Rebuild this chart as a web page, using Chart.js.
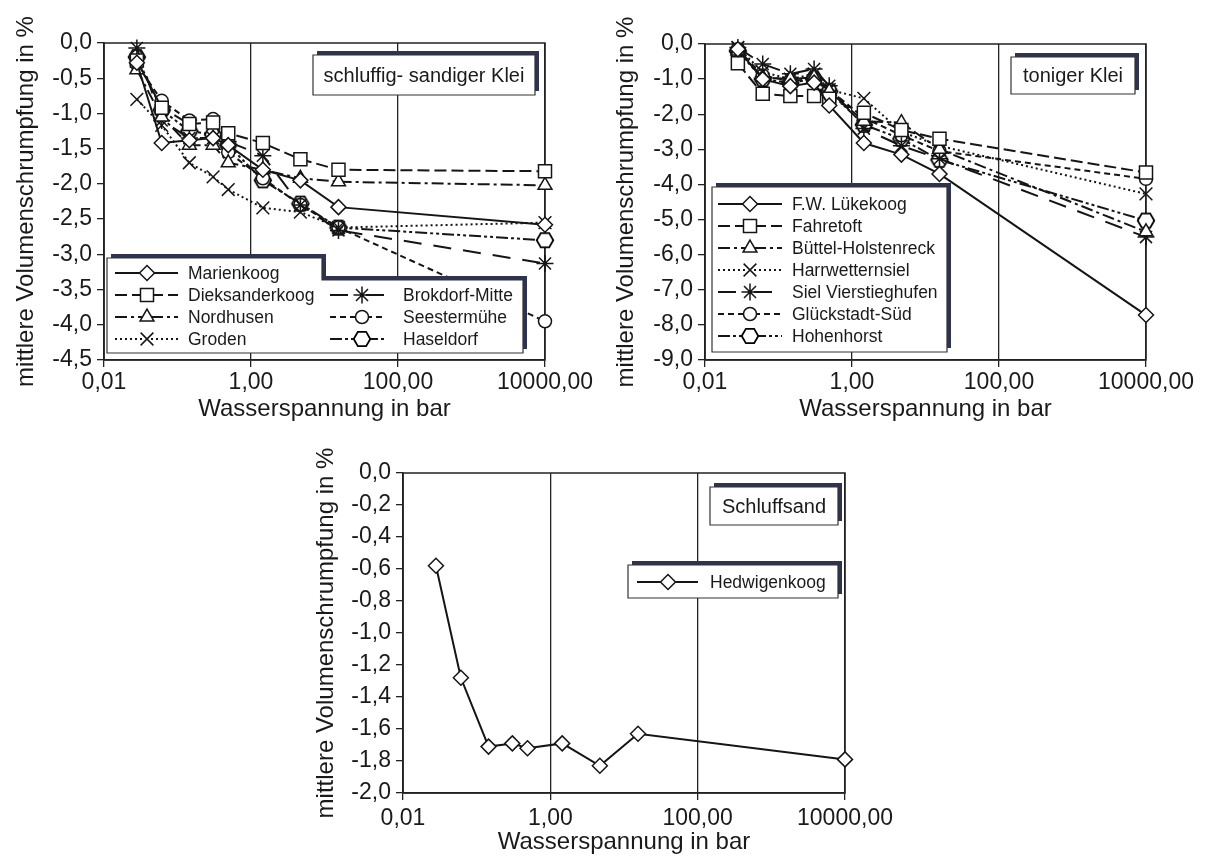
<!DOCTYPE html>
<html>
<head>
<meta charset="utf-8">
<script src="https://cdn.jsdelivr.net/npm/chart.js@4.4.1/dist/chart.umd.min.js"></script>
<style>
  html, body { margin: 0; padding: 0; background: #fff; }
  body { width: 1211px; height: 857px; position: relative; overflow: hidden; }
  canvas { position: absolute; }
</style>
</head>
<body>
<canvas id="c1" width="600" height="430" style="left:0px;top:0px;"></canvas>
<canvas id="c2" width="611" height="430" style="left:600px;top:0px;"></canvas>
<canvas id="c3" width="611" height="427" style="left:300px;top:430px;"></canvas>
<script>
// ---------------- DATA ----------------
const pressure = [0.028, 0.061, 0.145, 0.305, 0.49, 1.45, 4.7, 15.5, 10000]; // Wasserspannung in bar
const xTickValues = [0.01, 1, 100, 10000];
const xTickLabels = ['0,01', '1,00', '100,00', '10000,00'];

// Panel 1: schluffig- sandiger Klei
const names1 = ['Marienkoog', 'Dieksanderkoog', 'Nordhusen', 'Groden', 'Brokdorf-Mitte', 'Seestermühe', 'Haseldorf'];
const marienkoog     = [-0.28, -1.42, -1.38, -1.35, -1.45, -1.80, -1.95, -2.33, -2.58];
const dieksanderkoog = [-0.25, -0.92, -1.15, -1.13, -1.28, -1.42, -1.65, -1.80, -1.82];
const nordhusen      = [-0.38, -1.05, -1.45, -1.45, -1.70, -1.80, -1.92, -1.97, -2.02];
const groden         = [-0.80, -1.17, -1.70, -1.90, -2.08, -2.34, -2.40, -2.62, -2.55];
const brokdorf       = [-0.07, -1.10, -1.35, -1.35, -1.40, -1.60, -2.30, -2.66, -3.13];
const seestermuehe   = [-0.30, -0.82, -1.10, -1.08, -1.55, -1.92, -2.30, -2.62, -3.95];
const haseldorf      = [-0.20, -0.95, -1.25, -1.30, -1.45, -1.95, -2.28, -2.62, -2.80];

// Panel 2: toniger Klei
const names2 = ['F.W. Lükekoog', 'Fahretoft', 'Büttel-Holstenreck', 'Harrwetternsiel', 'Siel Vierstieghufen', 'Glückstadt-Süd', 'Hohenhorst'];
const luekekoog       = [-0.15, -1.00, -1.20, -1.10, -1.75, -2.82, -3.15, -3.70, -7.72];
const fahretoft       = [-0.55, -1.42, -1.48, -1.48, -1.56, -1.96, -2.45, -2.70, -3.66];
const buettel         = [-0.20, -0.95, -1.00, -0.95, -1.35, -2.20, -2.24, -3.00, -5.35];
const harrwetternsiel = [-0.10, -0.80, -1.00, -0.85, -1.30, -1.55, -2.50, -2.90, -4.27];
const sielVierstieg   = [-0.10, -0.57, -0.85, -0.71, -1.19, -2.41, -2.90, -3.27, -5.50];
const glueckstadt     = [-0.15, -0.90, -1.05, -1.00, -1.30, -2.10, -2.60, -3.05, -3.84];
const hohenhorst      = [-0.20, -1.00, -1.10, -1.00, -1.35, -2.30, -2.70, -3.30, -5.03];

// Panel 3: Schluffsand
const names3 = ['Hedwigenkoog'];
const hedwigenkoog = [-0.58, -1.28, -1.71, -1.69, -1.72, -1.69, -1.83, -1.63, -1.79];

const panelTitles = ['schluffig- sandiger Klei', 'toniger Klei', 'Schluffsand'];
const xTitle = 'Wasserspannung in bar';
const yTitle = 'mittlere Volumenschrumpfung in %';

// ---------------- STYLES ----------------
const FONT = "'Liberation Sans', Arial, Helvetica, sans-serif";
const INK = '#151515';
const SHADOW = '#2e3450';

function makeHex() {
  const c = document.createElement('canvas');
  c.width = 20; c.height = 18;
  const g = c.getContext('2d');
  const cx = 10, cy = 9, r = 8.3;
  g.beginPath();
  for (let i = 0; i < 6; i++) {
    const a = i * Math.PI / 3;
    const px = cx + r * Math.cos(a), py = cy + r * Math.sin(a);
    if (i === 0) g.moveTo(px, py); else g.lineTo(px, py);
  }
  g.closePath();
  g.fillStyle = '#fff'; g.fill();
  g.lineWidth = 1.8; g.strokeStyle = '#000'; g.stroke();
  return c;
}
const hexImg = makeHex();

const lineStyles = [
  { dash: [],                  point: 'rectRot',  r: 7.5 },
  { dash: [12, 5],             point: 'rect',     r: 9.2 },
  { dash: [12, 4, 3, 4],       point: 'triangle', r: 8 },
  { dash: [2, 3],              point: 'crossRot', r: 9 },
  { dash: [18, 12],            point: 'star',     r: 8.5 },
  { dash: [6, 4],              point: 'circle',   r: 6.5 },
  { dash: [12, 3, 3, 3, 3, 3], point: hexImg,     r: 8 }
];

function mkDataset(name, values, idx) {
  const s = lineStyles[idx];
  return {
    label: name,
    data: pressure.map((p, i) => ({ x: p, y: values[i] })),
    borderColor: INK,
    borderWidth: 2,
    borderDash: s.dash,
    pointStyle: s.point,
    pointRadius: s.r,
    pointBorderWidth: 1.5,
    pointBorderColor: INK,
    pointBackgroundColor: '#fff',
    tension: 0,
    fill: false,
    clip: false
  };
}

function drawMarker(ctx, style, x, y, r) {
  ctx.save();
  ctx.setLineDash([]);
  ctx.fillStyle = '#fff';
  ctx.strokeStyle = INK;
  ctx.lineWidth = 1.5;
  ctx.beginPath();
  if (style === 'rectRot') {
    ctx.moveTo(x - r, y); ctx.lineTo(x, y - r); ctx.lineTo(x + r, y); ctx.lineTo(x, y + r); ctx.closePath();
    ctx.fill(); ctx.stroke();
  } else if (style === 'rect') {
    const s = r * Math.SQRT1_2;
    ctx.rect(x - s, y - s, 2 * s, 2 * s); ctx.fill(); ctx.stroke();
  } else if (style === 'triangle') {
    for (let i = 0; i < 3; i++) {
      const a = i * 2 * Math.PI / 3;
      const px = x + Math.sin(a) * r, py = y - Math.cos(a) * r;
      if (i === 0) ctx.moveTo(px, py); else ctx.lineTo(px, py);
    }
    ctx.closePath(); ctx.fill(); ctx.stroke();
  } else if (style === 'crossRot') {
    const d = r * Math.SQRT1_2;
    ctx.moveTo(x - d, y - d); ctx.lineTo(x + d, y + d);
    ctx.moveTo(x - d, y + d); ctx.lineTo(x + d, y - d);
    ctx.stroke();
  } else if (style === 'star') {
    const d = r * Math.SQRT1_2;
    ctx.moveTo(x - r, y); ctx.lineTo(x + r, y);
    ctx.moveTo(x, y - r); ctx.lineTo(x, y + r);
    ctx.moveTo(x - d, y - d); ctx.lineTo(x + d, y + d);
    ctx.moveTo(x - d, y + d); ctx.lineTo(x + d, y - d);
    ctx.stroke();
  } else if (style === 'circle') {
    ctx.arc(x, y, r, 0, Math.PI * 2); ctx.fill(); ctx.stroke();
  } else {
    ctx.drawImage(style, Math.round(x - style.width / 2), Math.round(y - style.height / 2));
  }
  ctx.restore();
}

function shadowBox(ctx, poly) {
  ctx.save();
  ctx.setLineDash([]);
  ctx.beginPath();
  poly.forEach((p, i) => { if (i === 0) ctx.moveTo(p[0] + 4, p[1] - 4); else ctx.lineTo(p[0] + 4, p[1] - 4); });
  ctx.closePath();
  ctx.fillStyle = SHADOW; ctx.fill();
  ctx.beginPath();
  poly.forEach((p, i) => { if (i === 0) ctx.moveTo(p[0], p[1]); else ctx.lineTo(p[0], p[1]); });
  ctx.closePath();
  ctx.fillStyle = '#fff'; ctx.fill();
  ctx.lineWidth = 1.2; ctx.strokeStyle = '#333'; ctx.stroke();
  ctx.restore();
}
function rectPoly(x0, y0, x1, y1) { return [[x0, y0], [x1, y0], [x1, y1], [x0, y1]]; }

function panelPlugin(spec) {
  return {
    id: 'panelDeco',
    beforeDatasetsDraw(chart) {
      const { ctx, chartArea: a } = chart;
      ctx.save();
      ctx.setLineDash([]);
      ctx.lineWidth = 1.5; ctx.strokeStyle = '#222';
      ctx.strokeRect(a.left, a.top, a.right - a.left, a.bottom - a.top);
      ctx.restore();
    },
    afterDatasetsDraw(chart) {
      const ctx = chart.ctx;
      const t = spec.titleBox;
      shadowBox(ctx, rectPoly(t.x0, t.y0, t.x1, t.y1));
      ctx.save();
      ctx.fillStyle = '#1a1a1a';
      ctx.font = '20px ' + FONT;
      ctx.textAlign = 'center'; ctx.textBaseline = 'middle';
      ctx.fillText(t.text, (t.x0 + t.x1) / 2, (t.y0 + t.y1) / 2 + 1);
      ctx.restore();
      shadowBox(ctx, spec.legendPoly);
      spec.items.forEach(it => {
        const ds = chart.data.datasets[it.ds];
        const st = it.style;
        ctx.save();
        ctx.strokeStyle = INK; ctx.lineWidth = 2;
        ctx.setLineDash(st.dash);
        ctx.beginPath(); ctx.moveTo(it.x0, it.y); ctx.lineTo(it.mx - 4, it.y); ctx.stroke();
        ctx.beginPath(); ctx.moveTo(it.mx + 4, it.y); ctx.lineTo(it.x1, it.y); ctx.stroke();
        ctx.restore();
        drawMarker(ctx, st.point, it.mx, it.y, st.r);
        ctx.save();
        ctx.fillStyle = '#1a1a1a';
        ctx.font = '17.5px ' + FONT;
        ctx.textAlign = 'left'; ctx.textBaseline = 'middle';
        ctx.fillText(ds.label, it.tx, it.y + 1);
        ctx.restore();
      });
    }
  };
}

function yFmt(v) { return Number(v).toFixed(1).replace('.', ','); }

function makeOptions(o) {
  return {
    responsive: false,
    animation: false,
    devicePixelRatio: 1,
    layout: { padding: { left: 0, top: o.top, right: o.right, bottom: 0 } },
    plugins: { legend: { display: false }, tooltip: { enabled: false } },
    elements: { line: { borderJoinStyle: 'miter' } },
    scales: {
      x: {
        type: 'logarithmic',
        min: 0.01, max: 10000,
        afterBuildTicks: (s) => { s.ticks = xTickValues.map(v => ({ value: v, major: true })); },
        afterFit: (s) => { s.height = o.xh; },
        ticks: {
          autoSkip: false, maxRotation: 0, minRotation: 0,
          padding: o.xpad,
          color: '#1a1a1a',
          font: { family: FONT, size: 23 },
          callback: (v) => { const i = xTickValues.indexOf(Number(v)); return i >= 0 ? xTickLabels[i] : ''; }
        },
        grid: { display: true, drawOnChartArea: true, drawTicks: true, tickLength: 7, color: '#222', lineWidth: 1.3 },
        border: { display: true, color: '#222', width: 1.5 },
        title: { display: true, text: xTitle, color: '#1a1a1a', font: { family: FONT, size: 24 }, padding: { top: 0, bottom: o.xtpad } }
      },
      y: {
        min: o.ymin, max: 0,
        afterFit: (s) => { s.width = o.yw; },
        ticks: {
          stepSize: o.step,
          padding: 5,
          color: '#1a1a1a',
          font: { family: FONT, size: 23 },
          callback: (v) => yFmt(v)
        },
        grid: { display: true, drawOnChartArea: false, drawTicks: true, tickLength: 7, color: '#222', lineWidth: 1.3 },
        border: { display: true, color: '#222', width: 1.5 },
        title: { display: true, text: yTitle, color: '#1a1a1a', font: { family: FONT, size: 24 }, padding: { top: 12, bottom: 0 } }
      }
    }
  };
}

// ---------------- PANEL 1 ----------------
const p1Series = [marienkoog, dieksanderkoog, nordhusen, groden, brokdorf, seestermuehe, haseldorf];
const spec1 = {
  titleBox: { x0: 313, y0: 55, x1: 535, y1: 95, text: panelTitles[0] },
  legendPoly: [[107, 258], [322, 258], [322, 280], [523, 280], [523, 353], [107, 353]],
  items: []
};
[273, 295, 317, 339].forEach((y, i) => spec1.items.push({ ds: i, style: lineStyles[i], x0: 115, x1: 178, mx: 147, tx: 188, y }));
[295, 317, 339].forEach((y, i) => spec1.items.push({ ds: i + 4, style: lineStyles[i + 4], x0: 330, x1: 386, mx: 362, tx: 403, y }));

new Chart(document.getElementById('c1'), {
  type: 'line',
  data: { datasets: p1Series.map((v, i) => mkDataset(names1[i], v, i)) },
  options: makeOptions({ top: 43, right: 55, xh: 70, xpad: 2, xtpad: 6, ymin: -4.5, step: 0.5, yw: 104 }),
  plugins: [panelPlugin(spec1)]
});

// ---------------- PANEL 2 ----------------
const p2Series = [luekekoog, fahretoft, buettel, harrwetternsiel, sielVierstieg, glueckstadt, hohenhorst];
const spec2 = {
  titleBox: { x0: 411, y0: 57, x1: 535, y1: 94, text: panelTitles[1] },
  legendPoly: rectPoly(112, 187, 347, 352),
  items: []
};
[204, 226, 248, 270, 292, 314, 336].forEach((y, i) => spec2.items.push({ ds: i, style: lineStyles[i], x0: 118, x1: 182, mx: 150, tx: 192, y }));

new Chart(document.getElementById('c2'), {
  type: 'line',
  data: { datasets: p2Series.map((v, i) => mkDataset(names2[i], v, i)) },
  options: makeOptions({ top: 44, right: 65, xh: 70, xpad: 2, xtpad: 6, ymin: -9, step: 1, yw: 105 }),
  plugins: [panelPlugin(spec2)]
});

// ---------------- PANEL 3 ----------------
const spec3 = {
  titleBox: { x0: 410, y0: 57, x1: 538, y1: 95, text: panelTitles[2] },
  legendPoly: rectPoly(328, 135, 538, 168),
  items: [{ ds: 0, style: lineStyles[0], x0: 337, x1: 398, mx: 368, tx: 410, y: 152 }]
};
new Chart(document.getElementById('c3'), {
  type: 'line',
  data: { datasets: [mkDataset(names3[0], hedwigenkoog, 0)] },
  options: makeOptions({ top: 43, right: 66, xh: 64, xpad: 5, xtpad: 0, ymin: -2, step: 0.2, yw: 103 }),
  plugins: [panelPlugin(spec3)]
});
</script>
</body>
</html>
